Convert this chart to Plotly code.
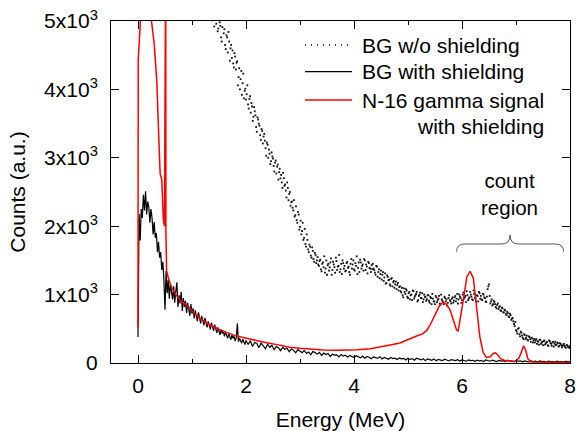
import plotly.graph_objects as go

# ---------------- data ----------------
# BG w/o shielding (dotted series): two interleaved channel sets, energy grid start / step in MeV
wo_start_a = 1.35
wo_start_b = 1.3625
wo_step = 0.025
bg_wo_a = [
    5320, 5010, 5180, 5390, 4960, 4850, 5100, 4930, 4700, 5020, 4880, 4590, 4760, 4840, 4420, 4650, 4570, 4320, 4480, 4390,
    4060, 4310, 4150, 3920, 4230, 3980, 3850, 4060, 3720, 3900, 3800, 3540, 3740, 3620, 3380, 3560, 3470, 3260, 3390, 3310,
    3250, 3030, 3190, 3120, 2910, 3080, 2990, 2800, 2960, 2870, 2680, 2840, 2750, 2560, 2700, 2610, 2420, 2560, 2470, 2300,
    2360, 2230, 2140, 2290, 2050, 2170, 1990, 1880, 2050, 1830, 1740, 1880, 1660, 1730, 1570, 1690, 1520, 1610, 1460, 1550,
    1420, 1510, 1340, 1470, 1560, 1380, 1290, 1450, 1400, 1530, 1360, 1440, 1320, 1490, 1410, 1580, 1370, 1300, 1460, 1420,
    1350, 1480, 1410, 1290, 1520, 1440, 1370, 1460, 1560, 1390, 1330, 1470, 1420, 1350, 1500, 1440, 1310, 1460, 1380, 1430,
    1450, 1360, 1290, 1410, 1330, 1240, 1350, 1290, 1200, 1310, 1170, 1260, 1220, 1130, 1240, 1180, 1100, 1190, 1140, 1060,
    1120, 1030, 990, 1090, 1010, 1060, 950, 1040, 990, 920, 1050, 970, 1010, 900, 980, 1030, 950, 890, 1000, 960,
    930, 990, 880, 950, 1010, 900, 860, 960, 920, 980, 850, 930, 890, 970, 900, 840, 950, 920, 870, 960,
    910, 980, 940, 870, 1000, 950, 920, 1030, 960, 890, 990, 940, 1040, 970, 920, 1010, 950, 990, 900, 1020,
    980, 920, 1000, 950, 890, 1080, 1150, 870, 930, 860, 890, 820, 850, 790, 830, 760, 800, 740, 770, 700,
    730, 670, 700, 650, 610, 540, 480, 430, 510, 390, 440, 370, 420, 350, 400, 330, 380, 310, 360, 330,
    300, 350, 320, 270, 340, 300, 260, 330, 290, 310, 250, 320, 280, 300, 240, 310, 270, 290, 250, 280,
    230, 270, 250, 220, 260, 230, 250,
]
bg_wo_b = [
    5150, 5280, 4920, 5070, 5210, 4890, 4980, 4760, 4910, 4820, 4650, 4790, 4540, 4700, 4600, 4460, 4380, 4530, 4290, 4410,
    4180, 4000, 4270, 4090, 3870, 4010, 3930, 3780, 3860, 3660, 3750, 3600, 3680, 3450, 3590, 3500, 3330, 3420, 3210, 3350,
    3140, 3220, 3000, 3060, 2950, 3020, 2880, 2930, 2770, 2900, 2790, 2700, 2640, 2780, 2590, 2520, 2640, 2380, 2500, 2350,
    2270, 2380, 2160, 2090, 2210, 1950, 2080, 1930, 1800, 1960, 1700, 1800, 1620, 1700, 1540, 1640, 1480, 1580, 1500, 1440,
    1490, 1370, 1450, 1400, 1320, 1500, 1430, 1350, 1470, 1290, 1480, 1400, 1540, 1360, 1420, 1330, 1450, 1500, 1380, 1340,
    1460, 1390, 1330, 1450, 1380, 1500, 1350, 1420, 1300, 1470, 1510, 1380, 1440, 1520, 1360, 1410, 1480, 1390, 1330, 1370,
    1380, 1320, 1420, 1260, 1370, 1300, 1220, 1330, 1250, 1160, 1280, 1210, 1150, 1230, 1120, 1200, 1150, 1080, 1170, 1110,
    1050, 1100, 960, 1040, 1080, 970, 1020, 930, 1000, 1060, 940, 990, 1040, 920, 1000, 950, 1020, 930, 970, 910,
    990, 910, 970, 860, 940, 900, 980, 890, 940, 870, 1000, 910, 860, 950, 930, 880, 990, 900, 940, 880,
    960, 900, 1010, 930, 970, 880, 1000, 940, 980, 1050, 920, 960, 1000, 930, 1060, 950, 900, 980, 1040, 940,
    930, 1010, 960, 900, 970, 1120, 980, 900, 840, 910, 860, 800, 870, 820, 770, 810, 740, 780, 720, 750,
    680, 720, 630, 660, 570, 600, 460, 500, 420, 460, 400, 350, 410, 370, 340, 390, 350, 370, 300, 350,
    330, 280, 310, 340, 280, 310, 320, 270, 300, 260, 330, 290, 250, 310, 280, 260, 300, 240, 290, 260,
    250, 280, 230, 260, 240, 220,
]
energy_wo = [round(wo_start_a + wo_step * i, 4) for i in range(len(bg_wo_a))] + \
            [round(wo_start_b + wo_step * i, 4) for i in range(len(bg_wo_b))]
bg_wo = bg_wo_a + bg_wo_b

# BG with shielding (black line): 0-2 MeV every 0.02 MeV, 2.04-8 MeV every 0.04 MeV
bg_with_low = [
    380,
    2180, 1790, 2250, 2120, 2460, 2230, 2510, 2170, 2360, 2280,
    2050, 2250, 2120, 1880, 2060, 1830, 1900, 1620, 1770, 1540,
    1620, 1360, 1480, 1210, 780, 1350, 1020, 1220, 940, 1160,
    1010, 930, 1120, 880, 1050, 1180, 820, 990, 870, 1040,
    760, 950, 820, 910, 730, 880, 790, 690, 860, 720,
    800, 650, 770, 700, 610, 740, 640, 580, 690, 620,
    550, 660, 590, 520, 610, 560, 490, 590, 520, 470,
    560, 500, 440, 520, 460, 410, 490, 430, 470, 390,
    450, 400, 360, 430, 380, 340, 410, 360, 390, 320,
    370, 580, 310, 360, 330, 290, 350, 300, 270, 330,
]
bg_with_high = [
    270, 325, 240, 300, 285, 225, 290, 250, 210, 275, 230, 260, 195, 240, 225, 180, 230, 200, 215, 165, 205, 185, 150, 195, 170,
    150, 185, 140, 160, 120, 170, 145, 130, 155, 110, 145, 125, 140, 95, 130, 115, 120, 90, 125, 100, 115, 85, 110, 100, 80,
    105, 90, 75, 100, 70, 95, 85, 62, 90, 78, 70, 92, 58, 80, 72, 55, 82, 64, 70, 50, 75, 60, 66, 45, 70,
    52, 64, 40, 70, 55, 45, 62, 35, 58, 50, 40, 60, 33, 52, 46, 36, 56, 40, 30, 50, 42, 34, 48, 28, 44,
    38, 26, 46, 34, 40, 24, 42, 30, 36, 22, 44, 32, 26, 40, 35, 20, 38, 28, 34, 22, 40, 26, 30, 18, 36,
    24, 32, 18, 30, 26, 15, 32, 22, 26, 14, 30, 20, 24, 12, 28, 19, 22, 13, 27, 17, 20, 12, 24, 16, 18,
]
energy_with = [round(0.02 * i, 3) for i in range(len(bg_with_low))] + \
              [round(2.04 + 0.04 * i, 3) for i in range(len(bg_with_high))]
bg_with = bg_with_low + bg_with_high

# N-16 gamma signal with shielding (red line)
n16_energy = [0.0, 0.004, 0.06, 0.12, 0.18, 0.22, 0.25, 0.30, 0.35, 0.38, 0.41, 0.44, 0.47, 0.49,
              0.503, 0.507, 0.513, 0.517, 0.53, 0.56, 0.60, 0.65, 0.70, 0.80, 0.90, 1.00, 1.15,
              1.30, 1.39, 1.50, 1.64, 1.80, 2.01, 2.20, 2.38, 2.60, 2.81, 3.00, 3.20, 3.43, 3.70,
              4.05, 4.30, 4.50, 4.67, 4.85, 4.98, 5.08, 5.16, 5.28, 5.35, 5.41, 5.47, 5.53, 5.59,
              5.65, 5.71, 5.78, 5.84, 5.90, 5.93, 5.96, 6.02, 6.09, 6.15, 6.21, 6.27, 6.33, 6.39,
              6.45, 6.52, 6.58, 6.62, 6.66, 6.72, 6.80, 6.90, 7.00, 7.06, 7.10, 7.14, 7.18, 7.22,
              7.28, 7.50, 8.00]
n16_counts = [520, 4430, 5200, 5600, 5700, 5300, 5000, 4670, 4090, 3400, 2770, 2680, 2090, 2000,
              6000, 4400, 6000, 1900, 1350, 1250, 1150, 1067, 1000, 900, 848, 760, 653,
              570, 531, 490, 448, 400, 361, 325, 297, 265, 230, 215, 200, 190, 185,
              192, 210, 235, 263, 292, 340, 375, 395, 430, 480, 556, 650, 750, 850,
              885, 860, 775, 620, 482, 470, 600, 900, 1262, 1340, 1240, 823, 385, 160,
              80, 90, 140, 150, 120, 60, 35, 25, 30, 80, 180, 250, 190, 60,
              15, 10, 8]

x_tickvals = [0, 2, 4, 6, 8]
y_tickvals = [0, 1000, 2000, 3000, 4000, 5000]
y_ticktext = ["0", "1x10<sup>3</sup>", "2x10<sup>3</sup>", "3x10<sup>3</sup>",
              "4x10<sup>3</sup>", "5x10<sup>3</sup>"]
legend_names = ["BG w/o shielding", "BG with shielding", "N-16 gamma signal", "with shielding"]

FONT = "Liberation Sans, Arial, sans-serif"

fig = go.Figure()
fig.add_trace(go.Scatter(x=energy_wo, y=bg_wo, mode="markers",
                         marker=dict(symbol="square", size=1.8, color="#111111", line=dict(width=0)),
                         showlegend=False))
fig.add_trace(go.Scatter(x=energy_with, y=bg_with, mode="lines",
                         line=dict(color="black", width=1.2), showlegend=False))
fig.add_trace(go.Scatter(x=n16_energy, y=n16_counts, mode="lines",
                         line=dict(color="#ff0000", width=1.5), showlegend=False))

# manual legend (paper coordinates)
W, H = 459.0, 342.0
def px(x):
    return (x - 111) / W
def py(y):
    return (363 - y) / H

rows = [45, 71.7, 100, 126.7]
fig.add_shape(type="line", xref="paper", yref="paper", x0=px(305), x1=px(352), y0=py(rows[0]), y1=py(rows[0]),
              line=dict(color="black", width=1.3, dash="1px,5px"))
fig.add_shape(type="line", xref="paper", yref="paper", x0=px(305), x1=px(352), y0=py(rows[1]), y1=py(rows[1]),
              line=dict(color="black", width=1.2))
fig.add_shape(type="line", xref="paper", yref="paper", x0=px(305), x1=px(352), y0=py(rows[2]), y1=py(rows[2]),
              line=dict(color="#ff0000", width=1.5))
for i, name in enumerate(legend_names):
    fig.add_annotation(xref="paper", yref="paper", x=px(360 if i < 3 else 415), y=py(rows[i]),
                       xanchor="left", yanchor="middle", text=name, showarrow=False,
                       font=dict(family=FONT, size=21, color="black"))

# count region brace (data coordinates)
fig.add_shape(type="path", xref="x", yref="y",
              path="M 5.9,1627 Q 5.9,1740 6.05,1740 L 6.74,1740 Q 6.89,1740 6.89,1871 "
                   "Q 6.89,1740 7.04,1740 L 7.73,1740 Q 7.88,1740 7.88,1627",
              line=dict(color="#555555", width=1))
fig.add_annotation(x=6.88, y=2470, xref="x", yref="y", text="count<br>region", showarrow=False,
                   font=dict(family=FONT, size=20.5, color="black"), align="center")

axis_common = dict(showline=True, linecolor="black", linewidth=1, mirror="allticks",
                   ticks="inside", ticklen=8, tickwidth=1, tickcolor="black",
                   showgrid=False, zeroline=False,
                   tickfont=dict(family=FONT, size=21, color="black"))

fig.update_xaxes(range=[-0.5, 8.0], tickvals=x_tickvals, ticklabelstandoff=4,
                 minor=dict(ticks="inside", ticklen=4, tickwidth=1, tickcolor="black", dtick=1, tick0=0),
                 title=dict(text="Energy (MeV)", font=dict(family=FONT, size=21, color="black"), standoff=18),
                 **axis_common)
fig.update_yaxes(range=[0, 5000], tickvals=y_tickvals, ticktext=y_ticktext, ticklabelstandoff=8,
                 title=dict(text="Counts (a.u.)", font=dict(family=FONT, size=21, color="black"), standoff=12),
                 **axis_common)

fig.update_layout(width=576, height=431, margin=dict(l=111, r=6, t=21, b=68, autoexpand=False),
                  paper_bgcolor="white", plot_bgcolor="white", showlegend=False,
                  font=dict(family=FONT, color="black"))

fig.write_html("out.html")
